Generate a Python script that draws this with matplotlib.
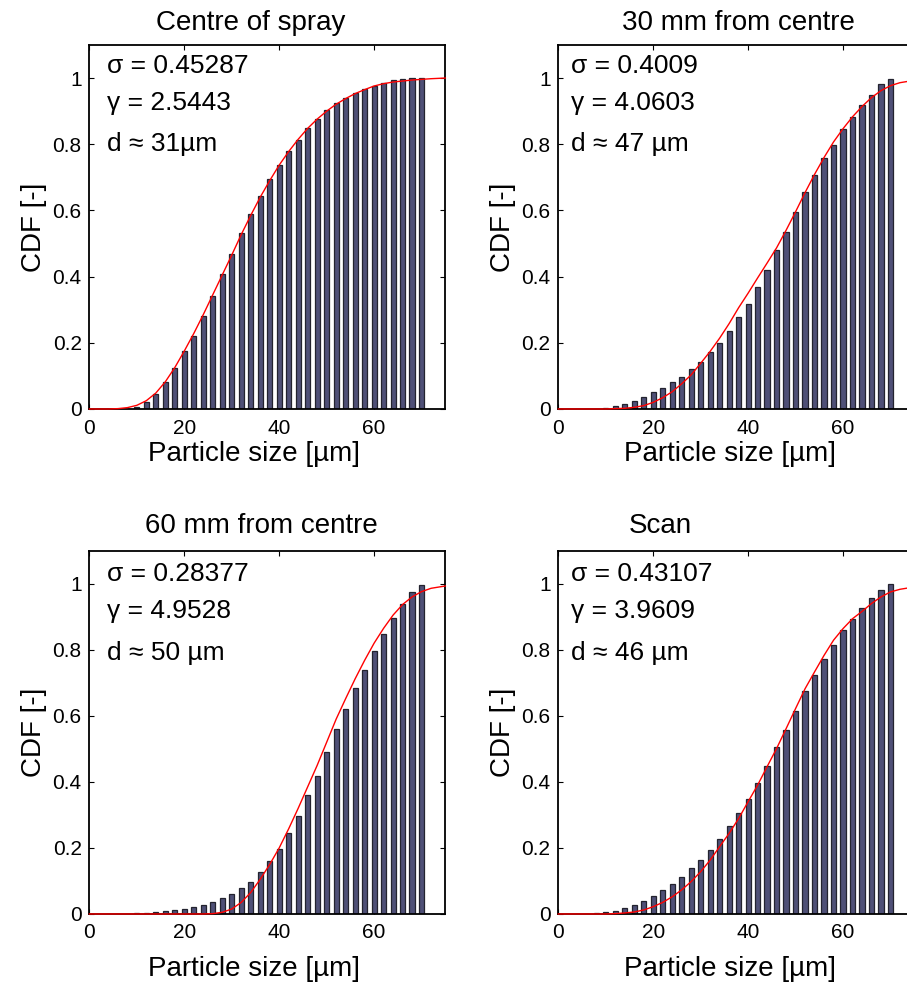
import numpy as np
import matplotlib
matplotlib.use("Agg")
import matplotlib.pyplot as plt

plt.rcParams['font.family'] = ['Liberation Sans', 'DejaVu Sans']

# bar positions (particle size, µm)
sizes = [2, 4, 6, 8, 10, 12, 14, 16, 18, 20, 22, 24, 26, 28, 30, 32, 34, 36,
         38, 40, 42, 44, 46, 48, 50, 52, 54, 56, 58, 60, 62, 64, 66, 68, 70]

cdf_centre = [0, 0, 0, 0, 0.007, 0.022, 0.045, 0.08, 0.123, 0.174, 0.221, 0.282,
              0.342, 0.408, 0.469, 0.533, 0.588, 0.645, 0.696, 0.738, 0.779, 0.814,
              0.849, 0.876, 0.903, 0.924, 0.939, 0.955, 0.967, 0.977, 0.986, 0.993,
              0.997, 1.0, 1.0]
cdf_30mm = [0, 0, 0, 0, 0.004, 0.008, 0.016, 0.025, 0.036, 0.05, 0.063, 0.081,
            0.097, 0.121, 0.143, 0.171, 0.199, 0.235, 0.277, 0.318, 0.369, 0.421,
            0.48, 0.536, 0.596, 0.655, 0.706, 0.758, 0.799, 0.845, 0.881, 0.919,
            0.949, 0.981, 0.997]
cdf_60mm = [0, 0, 0, 0, 0.002, 0.004, 0.006, 0.008, 0.011, 0.016, 0.021, 0.028,
            0.035, 0.047, 0.06, 0.079, 0.098, 0.126, 0.16, 0.197, 0.245, 0.297,
            0.359, 0.419, 0.489, 0.56, 0.621, 0.683, 0.738, 0.797, 0.847, 0.897,
            0.938, 0.976, 0.995]
cdf_scan = [0, 0, 0, 0.002, 0.005, 0.009, 0.018, 0.027, 0.039, 0.053, 0.072, 0.091,
            0.112, 0.138, 0.162, 0.194, 0.226, 0.265, 0.307, 0.348, 0.397, 0.449,
            0.505, 0.558, 0.616, 0.675, 0.725, 0.772, 0.815, 0.859, 0.894, 0.927,
            0.958, 0.982, 0.998]

# fitted curves
fit_x = [0, 4, 6, 8, 10, 12, 14, 16, 18, 20, 22, 24, 26, 28, 30, 32, 34, 36, 38,
         40, 42, 44, 46, 48, 50, 52, 54, 56, 58, 60, 62, 64, 66, 68, 70, 72, 75]
fit_centre = [0, 0, 0.001, 0.004, 0.011, 0.025, 0.048, 0.082, 0.125, 0.175, 0.228,
              0.285, 0.345, 0.405, 0.465, 0.527, 0.585, 0.64, 0.69, 0.737, 0.778,
              0.815, 0.848, 0.876, 0.9, 0.921, 0.938, 0.953, 0.965, 0.976, 0.983,
              0.988, 0.991, 0.994, 0.996, 0.998, 1.0]
fit_30mm = [0, 0, 0, 0, 0, 0.001, 0.002, 0.005, 0.01, 0.02, 0.034, 0.052, 0.076,
            0.103, 0.138, 0.174, 0.214, 0.258, 0.306, 0.35, 0.396, 0.441, 0.487,
            0.54, 0.596, 0.654, 0.709, 0.76, 0.807, 0.847, 0.883, 0.914, 0.941,
            0.962, 0.977, 0.986, 0.993]
fit_60mm = [0, 0, 0, 0, 0, 0, 0, 0, 0, 0, 0, 0, 0.001, 0.005, 0.015, 0.035, 0.065,
            0.105, 0.15, 0.2, 0.258, 0.32, 0.385, 0.45, 0.52, 0.59, 0.652, 0.712,
            0.768, 0.82, 0.865, 0.905, 0.937, 0.96, 0.976, 0.986, 0.993]
fit_scan = [0, 0, 0, 0, 0, 0.001, 0.003, 0.006, 0.012, 0.022, 0.035, 0.052, 0.073,
            0.098, 0.128, 0.163, 0.204, 0.244, 0.289, 0.34, 0.39, 0.446, 0.501,
            0.561, 0.622, 0.682, 0.733, 0.783, 0.829, 0.864, 0.894, 0.916, 0.94,
            0.96, 0.975, 0.983, 0.99]

titles = ["Centre of spray", "30 mm from centre", "60 mm from centre", "Scan"]
notes = [["σ = 0.45287", "γ = 2.5443", "d ≈ 31µm"],
         ["σ = 0.4009", "γ = 4.0603", "d ≈ 47 µm"],
         ["σ = 0.28377", "γ = 4.9528", "d ≈ 50 µm"],
         ["σ = 0.43107", "γ = 3.9609", "d ≈ 46 µm"]]
xticks = [0, 20, 40, 60]
yticks = [0, 0.2, 0.4, 0.6, 0.8, 1.0]
ytick_labels = ["0", "0.2", "0.4", "0.6", "0.8", "1"]

bars = [cdf_centre, cdf_30mm, cdf_60mm, cdf_scan]
fits = [fit_centre, fit_30mm, fit_60mm, fit_scan]

fig = plt.figure(figsize=(9.07, 9.9), dpi=100)
boxes = [[0.0985, 0.5869, 0.3925, 0.3677],
         [0.6155, 0.5869, 0.3925, 0.3677],
         [0.0985, 0.0768, 0.3925, 0.367],
         [0.6155, 0.0768, 0.3925, 0.367]]
title_x = [0.454, 0.507, 0.484, 0.286]
xlabel_x = [0.463, 0.482, 0.463, 0.482]
note_x = [3.8, 2.6, 3.8, 2.6]
note_y = [[1.035, 0.924, 0.802], [1.035, 0.924, 0.802],
          [1.030, 0.918, 0.789], [1.030, 0.918, 0.789]]

for i in range(4):
    ax = fig.add_axes(boxes[i])
    ax.bar(sizes, bars[i], width=1.1, color="#4f5077", edgecolor="#23232f",
           linewidth=0.9, zorder=2)
    ax.plot(fit_x, fits[i], color="red", lw=1.0, zorder=5, clip_on=False)
    ax.set_xlim(0, 75)
    ax.set_ylim(0, 1.1)
    ax.set_xticks(xticks)
    ax.set_yticks(yticks)
    ax.set_yticklabels(ytick_labels)
    top_row = i < 2
    ax.tick_params(direction="in", length=3.6, width=0.8, top=True, right=True,
                   labelsize=15, colors="black")
    ax.tick_params(axis="x", pad=7 if top_row else 6.3)
    ax.tick_params(axis="y", pad=5.5)
    for s in ax.spines.values():
        s.set_linewidth(1.3)
    ax.set_title(titles[i], fontsize=20, x=title_x[i], pad=10.5 if top_row else 12.5)
    ax.set_xlabel("Particle size [µm]", fontsize=20)
    ax.xaxis.set_label_coords(xlabel_x[i], -0.089 if top_row else -0.117)
    ax.set_ylabel("CDF [-]", fontsize=20)
    ax.yaxis.set_label_coords(-0.12, 0.5)
    for txt, yy in zip(notes[i], note_y[i]):
        ax.text(note_x[i], yy, txt, fontsize=19, va="center", ha="left")

fig.savefig("out.png", dpi=100)
